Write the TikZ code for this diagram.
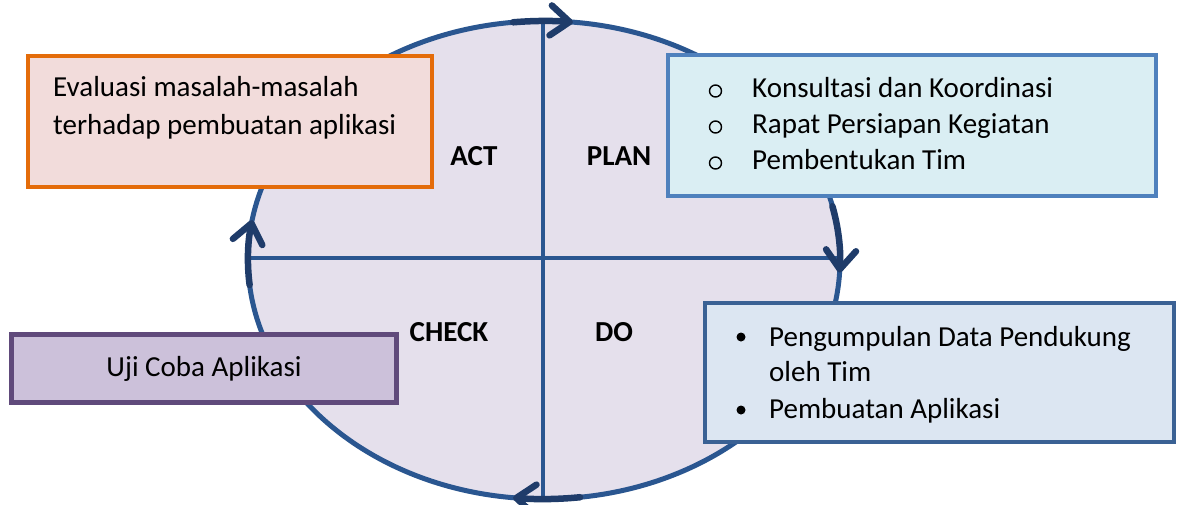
\documentclass[tikz,border=0pt]{standalone}
\usepackage{fontspec}
\setmainfont{Carlito}
\usetikzlibrary{arrows.meta}

\definecolor{ringblue}{HTML}{2A5690}
\definecolor{arrowblue}{HTML}{1F3C6A}
\definecolor{cyclefill}{HTML}{E5E0EC}
\definecolor{actline}{HTML}{E46C0A}
\definecolor{actfill}{HTML}{F2DCDB}
\definecolor{planline}{HTML}{4F81BD}
\definecolor{planfill}{HTML}{DAEEF3}
\definecolor{doline}{HTML}{3A6194}
\definecolor{dofill}{HTML}{DCE6F2}
\definecolor{checkline}{HTML}{604A7B}
\definecolor{checkfill}{HTML}{CCC1DA}

\tikzset{
  ring/.style={draw=ringblue, line width=5pt},
  cross/.style={draw=ringblue, line width=4.5pt},
  turn/.style={draw=arrowblue, line width=6.5pt, line cap=round,
    -{Straight Barb[length=19pt, width=30pt, line cap=round, line join=round]}},
  phase/.style={font=\fontsize{29}{36}\selectfont\bfseries, inner sep=0pt, anchor=base},
  txt/.style={font=\fontsize{29}{36}\selectfont, inner sep=0pt, anchor=base west},
  hollowbul/.style={circle, draw=black, line width=1.4pt, minimum size=12pt, inner sep=0pt},
  solidbul/.style={circle, fill=black, minimum size=9pt, inner sep=0pt},
  infobox/.style={rectangle, line width=4.5pt, inner sep=0pt},
}

\begin{document}
\begin{tikzpicture}[x=1pt, y=-1pt]
\useasboundingbox (0,0) rectangle (1177,504);

% the PDCA cycle
\coordinate (c) at (544,260);
\path[ring, fill=cyclefill] (c) ellipse [x radius=296, y radius=239];
\coordinate (top) at (543,22);
\coordinate (bottom) at (543,498);
\coordinate (left) at (251,258);
\coordinate (right) at (837,258);
\draw[cross] (top) -- (bottom);
\draw[cross] (left) -- (right);

% direction of the cycle
\draw[turn] (c) ++(-96:296 and 239) arc[start angle=-96, end angle=-84.4, x radius=296, y radius=239];
\draw[turn] (c) ++(-13:296 and 239) arc[start angle=-13, end angle=3, x radius=296, y radius=239];
\draw[turn] (c) ++(83:296 and 239) arc[start angle=83, end angle=96, x radius=296, y radius=239];
\draw[turn] (c) ++(174:296 and 239) arc[start angle=174, end angle=189.6, x radius=296, y radius=239];

% phase names
\node[phase] (act) at (474,165) {ACT};
\node[phase] (plan) at (619,165) {PLAN};
\node[phase] (check) at (449,341) {CHECK};
\node[phase] (do) at (614,341) {DO};

% ACT box
\node[infobox, draw=actline, fill=actfill, minimum width=404, minimum height=131] (actbox) at (230,121.5) {};
\node[txt] (act1) at (53,96) {Evaluasi masalah-masalah};
\node[txt] (act2) at (53,134) {terhadap pembuatan aplikasi};

% PLAN box
\node[infobox, draw=planline, fill=planfill, minimum width=488, minimum height=141] (planbox) at (912,125.5) {};
\node[hollowbul] (pb1) at (715.5,91) {};
\node[hollowbul] (pb2) at (715.5,127) {};
\node[hollowbul] (pb3) at (715.5,163) {};
\node[txt] (plan1) at (752,97) {Konsultasi dan Koordinasi};
\node[txt] (plan2) at (752,133) {Rapat Persiapan Kegiatan};
\node[txt] (plan3) at (752,169) {Pembentukan Tim};

% DO box
\node[infobox, draw=doline, fill=dofill, minimum width=469, minimum height=139] (dobox) at (939.5,372.5) {};
\node[solidbul] (db1) at (741,337) {};
\node[solidbul] (db2) at (741,410) {};
\node[txt] (do1) at (769,346) {Pengumpulan Data Pendukung};
\node[txt] (do2) at (769,381) {oleh Tim};
\node[txt] (do3) at (769,418) {Pembuatan Aplikasi};

% CHECK box
\node[infobox, draw=checkline, fill=checkfill, minimum width=385, minimum height=68] (checkbox) at (204,368.5) {};
\node[txt, anchor=base] (check1) at (204,376) {Uji Coba Aplikasi};
\end{tikzpicture}
\end{document}
